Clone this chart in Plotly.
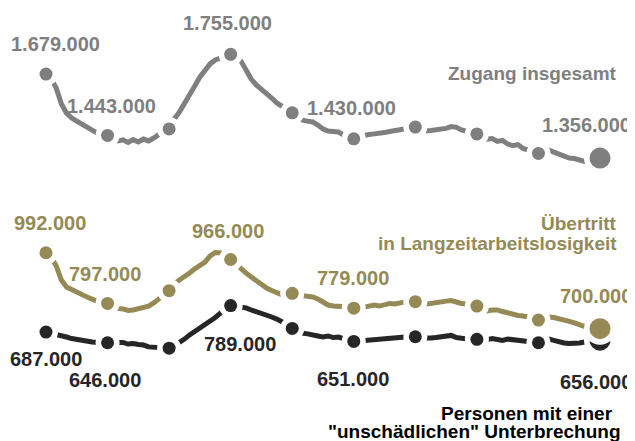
import plotly.graph_objects as go

# monthly values (thousands), 9 years, markers every 12 months
gray_k = [1679, 1660, 1625, 1564, 1529, 1510, 1498, 1487, 1475, 1464, 1452, 1447,
          1443, 1429, 1422, 1426, 1416, 1427, 1418, 1429, 1422, 1433, 1449, 1460,
          1468, 1506, 1533, 1564, 1602, 1633, 1668, 1691, 1718, 1733, 1741, 1748,
          1755, 1745, 1729, 1695, 1660, 1637, 1622, 1606, 1587, 1568, 1556, 1541,
          1530, 1514, 1502, 1498, 1495, 1483, 1468, 1460, 1460, 1456, 1445, 1437,
          1430, 1437, 1443, 1447, 1449, 1450, 1454, 1458, 1462, 1466, 1470, 1472,
          1475, 1468, 1460, 1462, 1464, 1466, 1470, 1477, 1474, 1464, 1458, 1454,
          1449, 1437, 1429, 1431, 1420, 1424, 1410, 1404, 1408, 1393, 1387, 1379,
          1374, 1383, 1387, 1379, 1370, 1360, 1356, 1354, 1349, 1343, 1345, 1349,
          1356]
olive_k = [992, 976, 941, 887, 860, 849, 841, 831, 822, 812, 805, 801,
           797, 787, 778, 776, 770, 772, 776, 781, 787, 799, 812, 830,
           846, 872, 887, 899, 914, 930, 941, 956, 980, 993, 991, 981,
           966, 949, 930, 914, 899, 883, 870, 856, 847, 837, 830, 828,
           836, 830, 828, 824, 822, 814, 803, 791, 787, 785, 783, 781,
           779, 781, 783, 785, 791, 787, 793, 797, 795, 801, 803, 803,
           804, 799, 795, 797, 801, 803, 806, 808, 801, 797, 795, 791,
           787, 772, 768, 772, 772, 766, 760, 755, 751, 749, 747, 741,
           733, 741, 745, 743, 739, 733, 728, 722, 714, 706, 701, 697,
           700]
black_k = [687, 683, 678, 672, 668, 662, 658, 655, 653, 649, 647, 647,
           646, 644, 643, 647, 641, 643, 639, 637, 630, 628, 626, 624,
           625, 634, 645, 660, 676, 689, 701, 714, 730, 743, 760, 778,
           789, 787, 785, 780, 772, 766, 762, 756, 745, 737, 728, 716,
           701, 691, 683, 680, 674, 672, 668, 672, 666, 668, 662, 657,
           651, 653, 655, 657, 657, 658, 660, 662, 664, 666, 668, 668,
           669, 664, 662, 664, 666, 670, 672, 674, 666, 662, 658, 658,
           659, 657, 658, 662, 658, 655, 660, 658, 653, 655, 653, 649,
           646, 658, 660, 655, 649, 645, 643, 643, 645, 649, 651, 651,
           656]

labelled_years = [0, 1, 3, 5, 9]
series_names = {
    "gray": ["Zugang insgesamt"],
    "olive": ["Übertritt", "in Langzeitarbeitslosigkeit"],
    "black": ["Personen mit einer ", "\"unschädlichen\" Unterbrechung"],
}

months = list(range(len(gray_k)))
gray = [v * 1000 for v in gray_k]
olive = [v * 1000 for v in olive_k]
black = [v * 1000 for v in black_k]

GRAY = "#7f7f7f"
OLIVE = "#958a55"
BLACK = "#262626"
FONT = "Liberation Sans, Arial, sans-serif"

# page body has an 8px margin: the figure starts at page (8, 8)
OFF = 8
W, H = 635 - OFF, 441 - OFF

fig = go.Figure()

def add_series(vals, color):
    fig.add_trace(go.Scatter(x=months, y=vals, mode="lines",
                             line=dict(color=color, width=5),
                             hoverinfo="skip", showlegend=False))
    mx = months[::12]
    my = vals[::12]
    sizes = [13] * (len(mx) - 1) + [21]
    fig.add_trace(go.Scatter(x=mx, y=my, mode="markers",
                             marker=dict(color="white", size=[s + 11 for s in sizes],
                                         opacity=1, line=dict(width=0)),
                             hoverinfo="skip", showlegend=False))
    fig.add_trace(go.Scatter(x=mx, y=my, mode="markers",
                             marker=dict(color=color, size=sizes, opacity=1, line=dict(width=0)),
                             hoverinfo="skip", showlegend=False))

add_series(gray, GRAY)
add_series(black, BLACK)
add_series(olive, OLIVE)

def fmt(v):
    return f"{v:,}".replace(",", ".")

offsets = {
    "gray": [(9, 30), (4, 29), (-3, 31), (-2, 31), (-14, 33)],
    "olive": [(4, 30), (-3, 29), (-3, 29), (-1, 30), (-4, 33)],
    "black": [(0, -27), (-3, -37), (9, -38), (-1, -38), (-4, -42)],
}
for key, vals, color in [("gray", gray, GRAY), ("olive", olive, OLIVE), ("black", black, BLACK)]:
    for yr, (dx, dy) in zip(labelled_years, offsets[key]):
        m = yr * 12
        fig.add_annotation(x=m, y=vals[m], xref="x", yref="y", text=f"<b>{fmt(vals[m])}</b>",
                           showarrow=False, xshift=dx, yshift=dy,
                           xanchor="center", yanchor="middle",
                           font=dict(family=FONT, size=20, color=color))

def name_ann(text, right_px, y_px, color):
    fig.add_annotation(x=(right_px - OFF) / W, y=1 - (y_px - OFF) / H, xref="paper", yref="paper",
                       text=f"<b>{text}</b>", showarrow=False, xanchor="right", yanchor="middle",
                       font=dict(family=FONT, size=19, color=color))

name_ann(series_names["gray"][0], 619, 74, GRAY)
name_ann(series_names["olive"][0], 619, 223.5, OLIVE)
name_ann(series_names["olive"][1], 619, 243.5, OLIVE)
name_ann(series_names["black"][0], 619, 413.5, "#000000")
name_ann(series_names["black"][1], 623, 431.5, "#000000")

px_per_month = 554 / 108
px_per_unit = 3845.0
fig.update_layout(
    width=W, height=H,
    margin=dict(l=0, r=0, t=0, b=0),
    paper_bgcolor="white", plot_bgcolor="white",
    xaxis=dict(range=[-(46 - OFF) / px_per_month, 108 + (635 - 600) / px_per_month],
               visible=False, fixedrange=True),
    yaxis=dict(range=[1755000 - (441 - 54.3) * px_per_unit, 1755000 + (54.3 - OFF) * px_per_unit],
               visible=False, fixedrange=True),
    showlegend=False,
)

fig.write_html("out.html", config={"displayModeBar": False})
